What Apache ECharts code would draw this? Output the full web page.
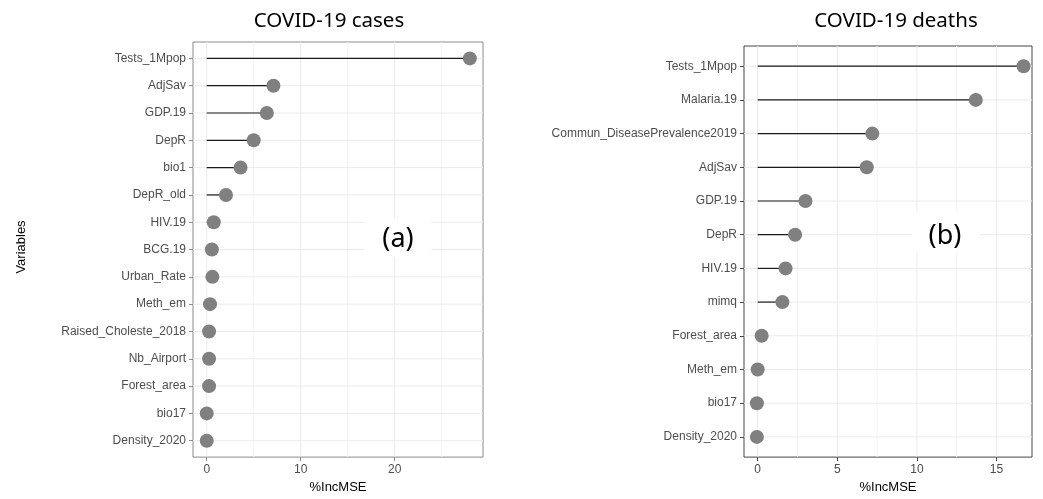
<!DOCTYPE html>
<html><head><meta charset="utf-8">
<script src="https://cdn.jsdelivr.net/npm/echarts@6/dist/echarts.min.js"></script>
<style>html,body{margin:0;padding:0;background:#fff}#c{width:1043px;height:499px}</style>
</head><body><div id="c"></div>
<script>
const casesTitle = 'COVID-19 cases';
const casesVars = ['Tests_1Mpop','AdjSav','GDP.19','DepR','bio1','DepR_old','HIV.19','BCG.19','Urban_Rate','Meth_em','Raised_Choleste_2018','Nb_Airport','Forest_area','bio17','Density_2020'];
const casesVals = [28.0, 7.1, 6.4, 5.0, 3.6, 2.05, 0.75, 0.55, 0.6, 0.35, 0.25, 0.25, 0.25, 0.0, 0.0];
const casesTicks = [0, 10, 20];
const casesMinor = [5, 15, 25];

const deathsTitle = 'COVID-19 deaths';
const deathsVars = ['Tests_1Mpop','Malaria.19','Commun_DiseasePrevalence2019','AdjSav','GDP.19','DepR','HIV.19','mimq','Forest_area','Meth_em','bio17','Density_2020'];
const deathsVals = [16.7, 13.7, 7.2, 6.85, 3.0, 2.35, 1.75, 1.55, 0.25, 0.0, -0.05, -0.05];
const deathsTicks = [0, 5, 10, 15];
const deathsMinor = [2.5, 7.5, 12.5];

const xName = '%IncMSE';
const yName = 'Variables';

const LABEL_FONT = 'Liberation Sans';
const chart = echarts.init(document.getElementById('c'), null, {renderer: 'canvas'});

function idx(n){ return Array.from({length:n}, (_, i) => i); }

const panels = [
  {vars: casesVars, vals: casesVals, ticks: casesTicks, minor: casesMinor, xmin: -1.46, xmax: 29.4,
   grid: {left: 193, top: 42, width: 290, height: 418}, border: '#8a8a8a', nameGap: 21},
  {vars: deathsVars, vals: deathsVals, ticks: deathsTicks, minor: deathsMinor, xmin: -0.86, xmax: 17.23,
   grid: {left: 744, top: 46, width: 288, height: 417}, border: '#444', nameGap: 22}
];

const grids = [], xAxes = [], yAxes = [], series = [];
panels.forEach((p, g) => {
  const n = p.vars.length;
  grids.push(Object.assign({show: true, borderColor: p.border, borderWidth: 1, backgroundColor: 'transparent'}, p.grid));
  xAxes.push({
    type: 'value', gridIndex: g, min: p.xmin, max: p.xmax,
    axisLine: {show: false, onZero: false},
    axisTick: {show: true, length: 4, customValues: p.ticks, lineStyle: {color: p.border}},
    axisLabel: {customValues: p.ticks, margin: 7, color: '#4d4d4d', fontFamily: LABEL_FONT, fontSize: 12},
    splitLine: {show: false}, minorSplitLine: {show: false},
    name: xName, nameLocation: 'middle', nameGap: p.nameGap,
    nameTextStyle: {color: '#000', fontFamily: LABEL_FONT, fontSize: 13}
  });
  yAxes.push({
    type: 'value', gridIndex: g, min: -0.6, max: n - 0.4, inverse: true,
    axisLine: {show: false, onZero: false},
    axisTick: {show: true, length: 4, customValues: idx(n), lineStyle: {color: p.border}},
    axisLabel: {customValues: idx(n), margin: 7, color: '#4d4d4d', fontFamily: LABEL_FONT, fontSize: 12,
      formatter: v => p.vars[Math.round(v)] || ''},
    splitLine: {show: false}
  });
  const gl = [].concat(
    p.minor.map(v => ['v', v, 'minor']),
    p.ticks.map(v => ['v', v, 'major']),
    idx(n).map(i => ['h', i, 'major'])
  );
  series.push({
    type: 'custom', xAxisIndex: g, yAxisIndex: g, z: 1, silent: true, clip: true,
    data: gl.map((d, k) => [k]),
    encode: {x: -1, y: -1},
    renderItem: (params, api) => {
      const d = gl[params.dataIndex];
      const cs = params.coordSys;
      const color = d[2] === 'minor' ? '#f4f4f4' : '#ebebeb';
      let shape;
      if (d[0] === 'v') {
        const x = api.coord([d[1], 0])[0];
        shape = {x1: x, y1: cs.y, x2: x, y2: cs.y + cs.height};
      } else {
        const y = api.coord([0, d[1]])[1];
        shape = {x1: cs.x, y1: y, x2: cs.x + cs.width, y2: y};
      }
      return {type: 'line', shape: shape, style: {stroke: color, lineWidth: 1}};
    }
  });
  series.push({
    type: 'custom', xAxisIndex: g, yAxisIndex: g, z: 2, silent: true,
    data: p.vals.map((v, i) => [v, i]),
    encode: {x: 0, y: 1},
    renderItem: (params, api) => {
      const a = api.coord([0, api.value(1)]);
      const b = api.coord([api.value(0), api.value(1)]);
      return {type: 'line', shape: {x1: a[0], y1: a[1], x2: b[0], y2: b[1]}, style: {stroke: '#1a1a1a', lineWidth: 1.2}};
    }
  });
  series.push({
    type: 'scatter', xAxisIndex: g, yAxisIndex: g, z: 3, symbolSize: 14,
    itemStyle: {color: '#808080', opacity: 1},
    data: p.vals.map((v, i) => [v, i])
  });
});

chart.setOption({
  animation: false,
  grid: grids, xAxis: xAxes, yAxis: yAxes, series: series,
  graphic: [
    {type: 'text', x: 329, y: 21.5, z: 10, style: {text: casesTitle, fill: '#000', font: '20.5px "Noto Sans"', align: 'center', verticalAlign: 'middle'}},
    {type: 'text', x: 896, y: 21.5, z: 10, style: {text: deathsTitle, fill: '#000', font: '20.5px "Noto Sans"', align: 'center', verticalAlign: 'middle'}},
    {type: 'text', x: 21, y: 247, rotation: Math.PI / 2, z: 10, style: {text: yName, fill: '#000', font: '13px "Liberation Sans"', align: 'center', verticalAlign: 'middle'}},
    {type: 'rect', z: 20, shape: {x: 364, y: 219, width: 67, height: 38}, style: {fill: '#fff'}},
    {type: 'text', x: 398, y: 239, z: 21, style: {text: '(a)', fill: '#000', font: '27px "Noto Sans"', align: 'center', verticalAlign: 'middle'}},
    {type: 'rect', z: 20, shape: {x: 912, y: 212, width: 68, height: 40}, style: {fill: '#fff'}},
    {type: 'text', x: 945, y: 236, z: 21, style: {text: '(b)', fill: '#000', font: '27px "Noto Sans"', align: 'center', verticalAlign: 'middle'}}
  ]
});
</script>
</body></html>
